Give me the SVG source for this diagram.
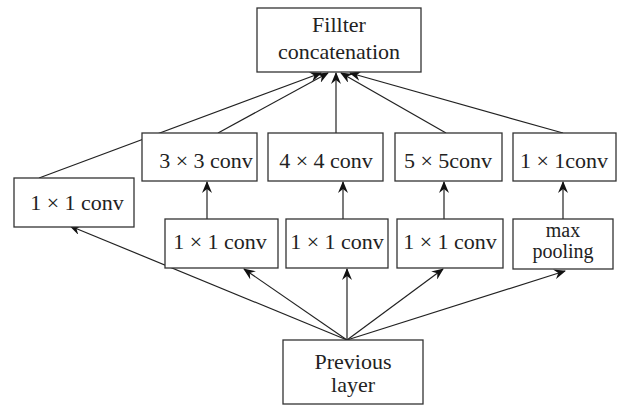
<svg xmlns="http://www.w3.org/2000/svg" width="626" height="405" viewBox="0 0 626 405">
<defs>
<marker id="ah" viewBox="0 0 12 10" refX="11" refY="5" markerWidth="12" markerHeight="10" markerUnits="userSpaceOnUse" orient="auto">
<path d="M0,0 L12,5 L0,10 L4,5 z" fill="#111"/>
</marker>
<style>
.box{fill:#fff;stroke:#333;stroke-width:1.3}
.t{font-family:"Liberation Serif","Times New Roman",serif;font-size:22px;fill:#222;text-anchor:middle}
.s{font-size:20px}
.c{stroke:#222;stroke-width:1.2;fill:none}
.a{stroke:#222;stroke-width:1.2;fill:none;marker-end:url(#ah)}
</style>
</defs>
<rect width="626" height="405" fill="#fff"/>
<g id="connectors">
<line class="a" x1="39" y1="178" x2="321" y2="73"/>
<line class="a" x1="218" y1="133" x2="328" y2="73"/>
<line class="a" x1="336" y1="133" x2="336" y2="73"/>
<line class="a" x1="446" y1="133" x2="341" y2="73"/>
<line class="a" x1="563" y1="133" x2="350" y2="73"/>
<line class="a" x1="207" y1="219" x2="207" y2="182"/>
<line class="a" x1="343" y1="219" x2="343" y2="182"/>
<line class="a" x1="444" y1="219" x2="444" y2="182"/>
<line class="a" x1="563" y1="219" x2="563" y2="182"/>
<line class="a" x1="347" y1="340" x2="70" y2="226"/>
<line class="a" x1="347" y1="340" x2="244" y2="269"/>
<line class="a" x1="347" y1="340" x2="347" y2="269"/>
<line class="a" x1="347" y1="340" x2="443" y2="269"/>
<line class="a" x1="347" y1="340" x2="565" y2="271"/>
</g>
<g id="concat">
<rect class="box" x="257" y="8" width="164" height="64"/>
<text class="t" x="339" y="32">Fillter</text>
<text class="t" x="339" y="59">concatenation</text>
</g>
<g id="conv1x1_left">
<rect class="box" x="14" y="178" width="120" height="49"/>
<text class="t" x="77" y="210">1 × 1 conv</text>
</g>
<g id="conv3x3">
<rect class="box" x="142" y="133" width="115" height="48"/>
<text class="t" x="206" y="168">3 × 3 conv</text>
</g>
<g id="conv4x4">
<rect class="box" x="268" y="133" width="115" height="48"/>
<text class="t" x="326" y="168">4 × 4 conv</text>
</g>
<g id="conv5x5">
<rect class="box" x="395" y="133" width="107" height="48"/>
<text class="t" x="448" y="168">5 × 5conv</text>
</g>
<g id="conv1x1_right">
<rect class="box" x="513" y="133" width="103" height="48"/>
<text class="t" x="564" y="168">1 × 1conv</text>
</g>
<g id="reduce1">
<rect class="box" x="165" y="219" width="113" height="49"/>
<text class="t" x="220" y="249">1 × 1 conv</text>
</g>
<g id="reduce2">
<rect class="box" x="286" y="219" width="102" height="49"/>
<text class="t" x="337" y="249">1 × 1 conv</text>
</g>
<g id="reduce3">
<rect class="box" x="397" y="219" width="106" height="49"/>
<text class="t" x="450" y="249">1 × 1 conv</text>
</g>
<g id="maxpool">
<rect class="box" x="513" y="219" width="100" height="50"/>
<text class="t s" x="563" y="237">max</text>
<text class="t s" x="563" y="258">pooling</text>
</g>
<g id="previous">
<rect class="box" x="283" y="340" width="140" height="64"/>
<text class="t" x="353" y="369">Previous</text>
<text class="t" x="353" y="392">layer</text>
</g>
</svg>
